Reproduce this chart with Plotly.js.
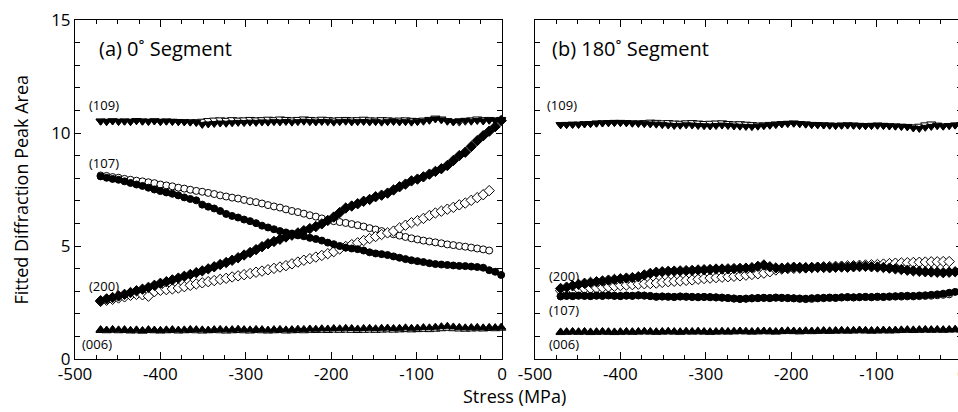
<!DOCTYPE html>
<html>
<head>
<meta charset="utf-8">
<script src="https://cdn.plot.ly/plotly-3.0.1.min.js"></script>
<style>
html, body { margin: 0; padding: 0; overflow: hidden; background: #fff; }
#chart { width: 970px; height: 412px; }
</style>
</head>
<body>
<div id="chart"></div>
<script>
// Stress (MPa) loading steps
var stress = [-470,-463,-456,-449,-442,-435,-428,-421,-414,-407,-400,-393,-386,-379,-372,-365,-358,-351,-344,-337,-330,-323,-316,-309,-302,-295,-288,-281,-274,-267,-260,-253,-246,-239,-232,-225,-218,-211,-204,-197,-190,-183,-176,-169,-162,-155,-148,-141,-134,-127,-120,-113,-106,-99,-92,-85,-78,-71,-64,-57,-50,-43,-36,-29,-22,-15,-8,-1];

// (a) 0° segment
var a109Filled = [10.52,10.50,10.53,10.51,10.52,10.50,10.54,10.52,10.51,10.53,10.50,10.52,10.51,10.50,10.49,10.48,10.46,10.38,10.40,10.42,10.44,10.43,10.45,10.47,10.46,10.48,10.47,10.49,10.48,10.50,10.49,10.51,10.48,10.50,10.52,10.50,10.49,10.51,10.50,10.48,10.50,10.52,10.49,10.50,10.51,10.49,10.50,10.48,10.50,10.51,10.49,10.50,10.48,10.50,10.52,10.56,10.62,10.58,10.52,10.49,10.54,10.56,10.52,10.55,10.53,10.56,10.55,10.57];
var a109Open = [10.53,10.52,10.54,10.52,10.53,10.52,10.55,10.53,10.52,10.54,10.52,10.53,10.52,10.51,10.50,10.49,10.50,10.52,10.55,10.57,10.58,10.56,10.59,10.57,10.58,10.60,10.58,10.59,10.61,10.59,10.62,10.60,10.58,10.60,10.62,10.60,10.58,10.61,10.59,10.57,10.59,10.60,10.58,10.59,10.61,10.58,10.57,10.59,10.58,10.56,10.57,10.58,10.56,10.55,10.57,10.60,10.66,10.62,10.55,10.50,10.48,10.52,10.58,10.62,10.59,10.60,10.58,10.60];
var a107Filled = [8.08,8.02,7.97,7.93,7.86,7.79,7.72,7.66,7.58,7.50,7.43,7.37,7.31,7.24,7.15,7.08,7.02,6.83,6.74,6.66,6.55,6.42,6.33,6.26,6.17,6.10,6.01,5.90,5.82,5.74,5.66,5.60,5.55,5.47,5.43,5.36,5.31,5.24,5.15,5.08,5.00,4.93,4.89,4.86,4.80,4.72,4.67,4.64,4.60,4.54,4.48,4.42,4.37,4.33,4.29,4.24,4.20,4.18,4.16,4.14,4.12,4.11,4.09,4.07,4.04,3.93,3.86,3.72];
var a107Open = [8.12,8.10,8.05,8.02,7.97,7.93,7.89,7.86,7.82,7.78,7.72,7.68,7.64,7.58,7.54,7.49,7.44,7.40,7.35,7.30,7.24,7.19,7.14,7.10,7.04,6.98,6.94,6.88,6.81,6.75,6.70,6.62,6.55,6.50,6.43,6.36,6.30,6.22,6.15,6.10,6.06,6.02,5.97,5.92,5.86,5.79,5.73,5.66,5.58,5.52,5.46,5.40,5.34,5.29,5.24,5.20,5.16,5.12,5.07,5.04,5.00,4.97,4.93,4.89,4.85,4.80];
var a200Filled = [2.58,2.66,2.72,2.79,2.86,2.94,3.02,3.09,3.17,3.26,3.35,3.42,3.50,3.58,3.66,3.74,3.82,3.90,3.99,4.08,4.18,4.27,4.37,4.48,4.60,4.71,4.84,4.97,5.10,5.20,5.30,5.40,5.48,5.58,5.68,5.77,5.86,5.98,6.13,6.28,6.48,6.68,6.77,6.87,6.98,7.06,7.18,7.25,7.34,7.48,7.62,7.74,7.88,7.96,8.06,8.18,8.30,8.42,8.56,8.78,9.00,9.15,9.40,9.66,9.88,10.08,10.28,10.55];
var a200Open = [2.55,2.60,2.64,2.70,2.75,2.82,2.86,2.84,2.78,2.98,3.04,3.07,3.10,3.14,3.20,3.26,3.32,3.37,3.42,3.47,3.52,3.57,3.63,3.68,3.73,3.78,3.84,3.89,3.95,4.01,4.07,4.13,4.21,4.29,4.37,4.44,4.51,4.58,4.66,4.75,4.87,4.98,5.06,5.14,5.24,5.33,5.42,5.51,5.58,5.66,5.80,5.92,6.03,6.12,6.22,6.35,6.46,6.54,6.63,6.71,6.82,6.90,7.02,7.14,7.27,7.45];
var a006Filled = [1.30,1.28,1.31,1.29,1.30,1.27,1.29,1.26,1.30,1.28,1.27,1.29,1.30,1.28,1.29,1.31,1.30,1.29,1.28,1.30,1.31,1.29,1.30,1.32,1.30,1.29,1.31,1.30,1.28,1.30,1.31,1.29,1.30,1.32,1.31,1.33,1.32,1.34,1.33,1.35,1.34,1.36,1.35,1.33,1.35,1.36,1.34,1.36,1.37,1.35,1.36,1.38,1.36,1.37,1.39,1.38,1.41,1.43,1.45,1.42,1.40,1.38,1.39,1.40,1.38,1.40,1.39,1.41];
var a006Open = [1.26,1.25,1.27,1.25,1.26,1.24,1.25,1.23,1.26,1.25,1.24,1.25,1.26,1.24,1.25,1.26,1.25,1.24,1.25,1.26,1.25,1.24,1.25,1.26,1.25,1.24,1.26,1.25,1.24,1.25,1.26,1.24,1.25,1.26,1.25,1.27,1.26,1.27,1.26,1.28,1.27,1.28,1.27,1.26,1.27,1.28,1.27,1.28,1.29,1.28,1.29,1.30,1.29,1.30,1.31,1.30,1.32,1.34,1.36,1.34,1.33,1.32,1.33,1.34,1.33,1.35,1.34,1.36];

// (b) 180° segment
var b109Filled = [10.36,10.37,10.38,10.38,10.40,10.41,10.43,10.44,10.45,10.46,10.46,10.45,10.43,10.42,10.41,10.40,10.39,10.37,10.35,10.33,10.34,10.36,10.35,10.33,10.32,10.31,10.33,10.35,10.33,10.31,10.30,10.29,10.28,10.30,10.32,10.34,10.37,10.40,10.42,10.43,10.41,10.39,10.37,10.36,10.35,10.34,10.33,10.34,10.35,10.34,10.33,10.32,10.33,10.34,10.33,10.31,10.30,10.29,10.27,10.22,10.20,10.25,10.29,10.32,10.30,10.33,10.35,10.36];
var b109Open = [10.37,10.38,10.39,10.39,10.41,10.42,10.44,10.45,10.46,10.47,10.47,10.46,10.45,10.45,10.46,10.48,10.47,10.45,10.46,10.44,10.43,10.45,10.46,10.44,10.42,10.43,10.44,10.45,10.42,10.40,10.41,10.39,10.37,10.35,10.36,10.38,10.40,10.42,10.43,10.44,10.42,10.40,10.38,10.37,10.36,10.35,10.34,10.35,10.36,10.35,10.34,10.33,10.34,10.35,10.34,10.32,10.31,10.30,10.29,10.27,10.30,10.36,10.40,10.35,10.31,10.33,10.35,10.36];
var b200Filled = [3.12,3.18,3.24,3.30,3.35,3.39,3.42,3.45,3.49,3.52,3.55,3.58,3.60,3.64,3.72,3.79,3.84,3.86,3.88,3.89,3.90,3.91,3.92,3.94,3.95,3.96,3.98,3.98,3.99,4.00,4.01,4.02,4.04,4.10,4.16,4.08,4.03,4.02,4.04,4.06,4.05,4.04,4.05,4.06,4.05,4.04,4.06,4.07,4.06,4.08,4.09,4.10,4.08,4.07,4.05,4.02,3.99,3.96,3.93,3.90,3.88,3.86,3.85,3.84,3.82,3.84,3.86,3.87];
var b200Open = [3.02,3.04,3.07,3.09,3.11,3.12,3.14,3.16,3.19,3.22,3.25,3.27,3.29,3.31,3.33,3.34,3.36,3.39,3.42,3.44,3.46,3.48,3.50,3.53,3.56,3.58,3.60,3.62,3.64,3.66,3.68,3.71,3.74,3.77,3.80,3.86,3.94,3.98,4.00,4.01,4.02,4.03,4.05,4.06,4.08,4.09,4.10,4.11,4.12,4.13,4.15,4.16,4.17,4.18,4.20,4.22,4.24,4.25,4.26,4.27,4.28,4.29,4.30,4.30,4.31,4.31];
var b107Filled = [2.78,2.80,2.79,2.81,2.80,2.79,2.81,2.80,2.82,2.80,2.79,2.81,2.80,2.82,2.81,2.79,2.76,2.77,2.76,2.75,2.77,2.76,2.75,2.74,2.75,2.74,2.73,2.72,2.70,2.68,2.66,2.67,2.69,2.70,2.71,2.70,2.72,2.71,2.70,2.69,2.68,2.67,2.69,2.70,2.71,2.72,2.71,2.73,2.74,2.73,2.74,2.75,2.74,2.76,2.75,2.77,2.78,2.79,2.80,2.79,2.81,2.82,2.84,2.86,2.89,2.93,2.97,3.01];
var b107Open = [2.77,2.79,2.78,2.80,2.79,2.78,2.80,2.79,2.81,2.79,2.78,2.80,2.79,2.81,2.80,2.78,2.75,2.76,2.75,2.74,2.76,2.75,2.74,2.73,2.74,2.73,2.72,2.71,2.69,2.67,2.66,2.67,2.68,2.69,2.70,2.69,2.71,2.70,2.69,2.68,2.66,2.65,2.66,2.68,2.69,2.70,2.70,2.72,2.73,2.72,2.73,2.74,2.73,2.74,2.74,2.75,2.76,2.76,2.77,2.77,2.78,2.79,2.80,2.82,2.84,2.86];
var b006Filled = [1.20,1.21,1.22,1.21,1.22,1.20,1.21,1.22,1.21,1.20,1.21,1.22,1.21,1.22,1.23,1.22,1.21,1.22,1.23,1.22,1.21,1.23,1.22,1.23,1.22,1.21,1.22,1.23,1.22,1.23,1.24,1.23,1.22,1.23,1.24,1.23,1.22,1.24,1.25,1.24,1.23,1.25,1.24,1.25,1.26,1.25,1.26,1.27,1.26,1.27,1.28,1.27,1.26,1.27,1.28,1.27,1.28,1.29,1.30,1.29,1.30,1.31,1.30,1.31,1.30,1.31,1.32,1.31];
var b006Open = [1.17,1.18,1.19,1.18,1.19,1.17,1.18,1.19,1.18,1.17,1.18,1.19,1.18,1.19,1.20,1.19,1.18,1.19,1.20,1.19,1.18,1.20,1.19,1.20,1.19,1.18,1.19,1.20,1.19,1.20,1.21,1.20,1.19,1.20,1.21,1.20,1.19,1.21,1.22,1.21,1.20,1.22,1.21,1.22,1.23,1.22,1.23,1.24,1.23,1.24,1.25,1.24,1.23,1.24,1.25,1.24,1.25,1.26,1.27,1.26,1.27,1.28,1.27,1.28,1.27,1.28,1.29,1.28];

var xTickVals = [-500,-400,-300,-200,-100,0];
var xTickText = ['-500','-400','-300','-200','-100','0'];
var yTickVals = [0,5,10,15];
var yTickText = ['0','5','10','15'];

var FONT = '"Open Sans", "Noto Sans", sans-serif';

var symbols = {
  '109': 'triangle-down', '107': 'circle', '200': 'diamond', '006': 'triangle-up'
};
var sizes = { '109': 8, '107': 7, '200': 8, '006': 8 };

function series(y, peak, filled, xa, ya) {
  return {
    type: 'scatter', mode: 'markers',
    x: stress.slice(0, y.length), y: y,
    xaxis: xa, yaxis: ya, cliponaxis: false,
    marker: {
      symbol: symbols[peak], size: sizes[peak],
      color: filled ? '#000' : '#fff',
      line: { color: '#000', width: 1 }
    },
    hoverinfo: 'x+y', showlegend: false
  };
}

var data = [
  series(a109Open, '109', false, 'x', 'y'),
  series(a107Open, '107', false, 'x', 'y'),
  series(a200Open, '200', false, 'x', 'y'),
  series(a006Open, '006', false, 'x', 'y'),
  series(a109Filled, '109', true, 'x', 'y'),
  series(a107Filled, '107', true, 'x', 'y'),
  series(a200Filled, '200', true, 'x', 'y'),
  series(a006Filled, '006', true, 'x', 'y'),
  series(b109Open, '109', false, 'x2', 'y2'),
  series(b107Open, '107', false, 'x2', 'y2'),
  series(b200Open, '200', false, 'x2', 'y2'),
  series(b006Open, '006', false, 'x2', 'y2'),
  series(b109Filled, '109', true, 'x2', 'y2'),
  series(b107Filled, '107', true, 'x2', 'y2'),
  series(b200Filled, '200', true, 'x2', 'y2'),
  series(b006Filled, '006', true, 'x2', 'y2')
];

function xAxis(domain, anchor) {
  return {
    domain: domain, anchor: anchor, range: [-500, 0],
    tickmode: 'array', tickvals: xTickVals, ticktext: xTickText,
    ticks: 'inside', ticklen: 7, tickwidth: 1, tickcolor: '#000',
    minor: { dtick: 25, tick0: -500, ticks: 'inside', ticklen: 4, tickcolor: '#000', showgrid: false },
    mirror: 'ticks', showline: true, linecolor: '#000', linewidth: 1,
    showgrid: false, zeroline: false,
    tickfont: { family: FONT, size: 17, color: '#000' }
  };
}
function yAxis(anchor, labels) {
  return {
    anchor: anchor, domain: [0, 1], range: [0, 15],
    tickmode: 'array', tickvals: yTickVals, ticktext: yTickText,
    showticklabels: labels,
    ticks: 'inside', ticklen: 6, tickwidth: 1, tickcolor: '#000',
    minor: { dtick: 1, tick0: 0, ticks: 'inside', ticklen: 5, tickcolor: '#000', showgrid: false },
    mirror: 'ticks', showline: true, linecolor: '#000', linewidth: 1,
    showgrid: false, zeroline: false,
    tickfont: { family: FONT, size: 17, color: '#000' }
  };
}

function lbl(text, xref, yref, x, y, size, anchor) {
  return { text: text, xref: xref, yref: yref, x: x, y: y, showarrow: false,
           xanchor: anchor || 'left', yanchor: 'middle',
           font: { family: FONT, size: size, color: '#000' } };
}

var layout = {
  width: 970, height: 412,
  margin: { l: 75, r: 8, t: 20, b: 53 },
  paper_bgcolor: '#fff', plot_bgcolor: '#fff',
  xaxis: xAxis([0, 0.4814], 'y'),
  yaxis: yAxis('x', true),
  xaxis2: xAxis([0.5186, 1], 'y2'),
  yaxis2: yAxis('x2', false),
  annotations: [
    lbl('(a) 0˚ Segment', 'x', 'y', -474, 13.76, 20),
    lbl('(b) 180˚ Segment', 'x2', 'y2', -482, 13.76, 20),
    lbl('(109)', 'x', 'y', -486, 11.24, 13),
    lbl('(107)', 'x', 'y', -486, 8.67, 13),
    lbl('(200)', 'x', 'y', -486, 3.23, 13),
    lbl('(006)', 'x', 'y', -494, 0.66, 13),
    lbl('(109)', 'x2', 'y2', -488, 11.24, 13),
    lbl('(200)', 'x2', 'y2', -486, 3.67, 13),
    lbl('(107)', 'x2', 'y2', -486, 2.17, 13),
    lbl('(006)', 'x2', 'y2', -486, 0.66, 13),
    { text: 'Stress (MPa)', xref: 'paper', yref: 'paper', x: 0.496, y: -0.108,
      xanchor: 'center', yanchor: 'middle', showarrow: false,
      font: { family: FONT, size: 18, color: '#000' } },
    { text: 'Fitted Diffraction Peak Area', xref: 'paper', yref: 'paper', x: -0.062, y: 0.5,
      xanchor: 'center', yanchor: 'middle', textangle: -90, showarrow: false,
      font: { family: FONT, size: 18, color: '#000' } }
  ]
};

Plotly.newPlot('chart', data, layout, { displayModeBar: false, staticPlot: true });
</script>
</body>
</html>
